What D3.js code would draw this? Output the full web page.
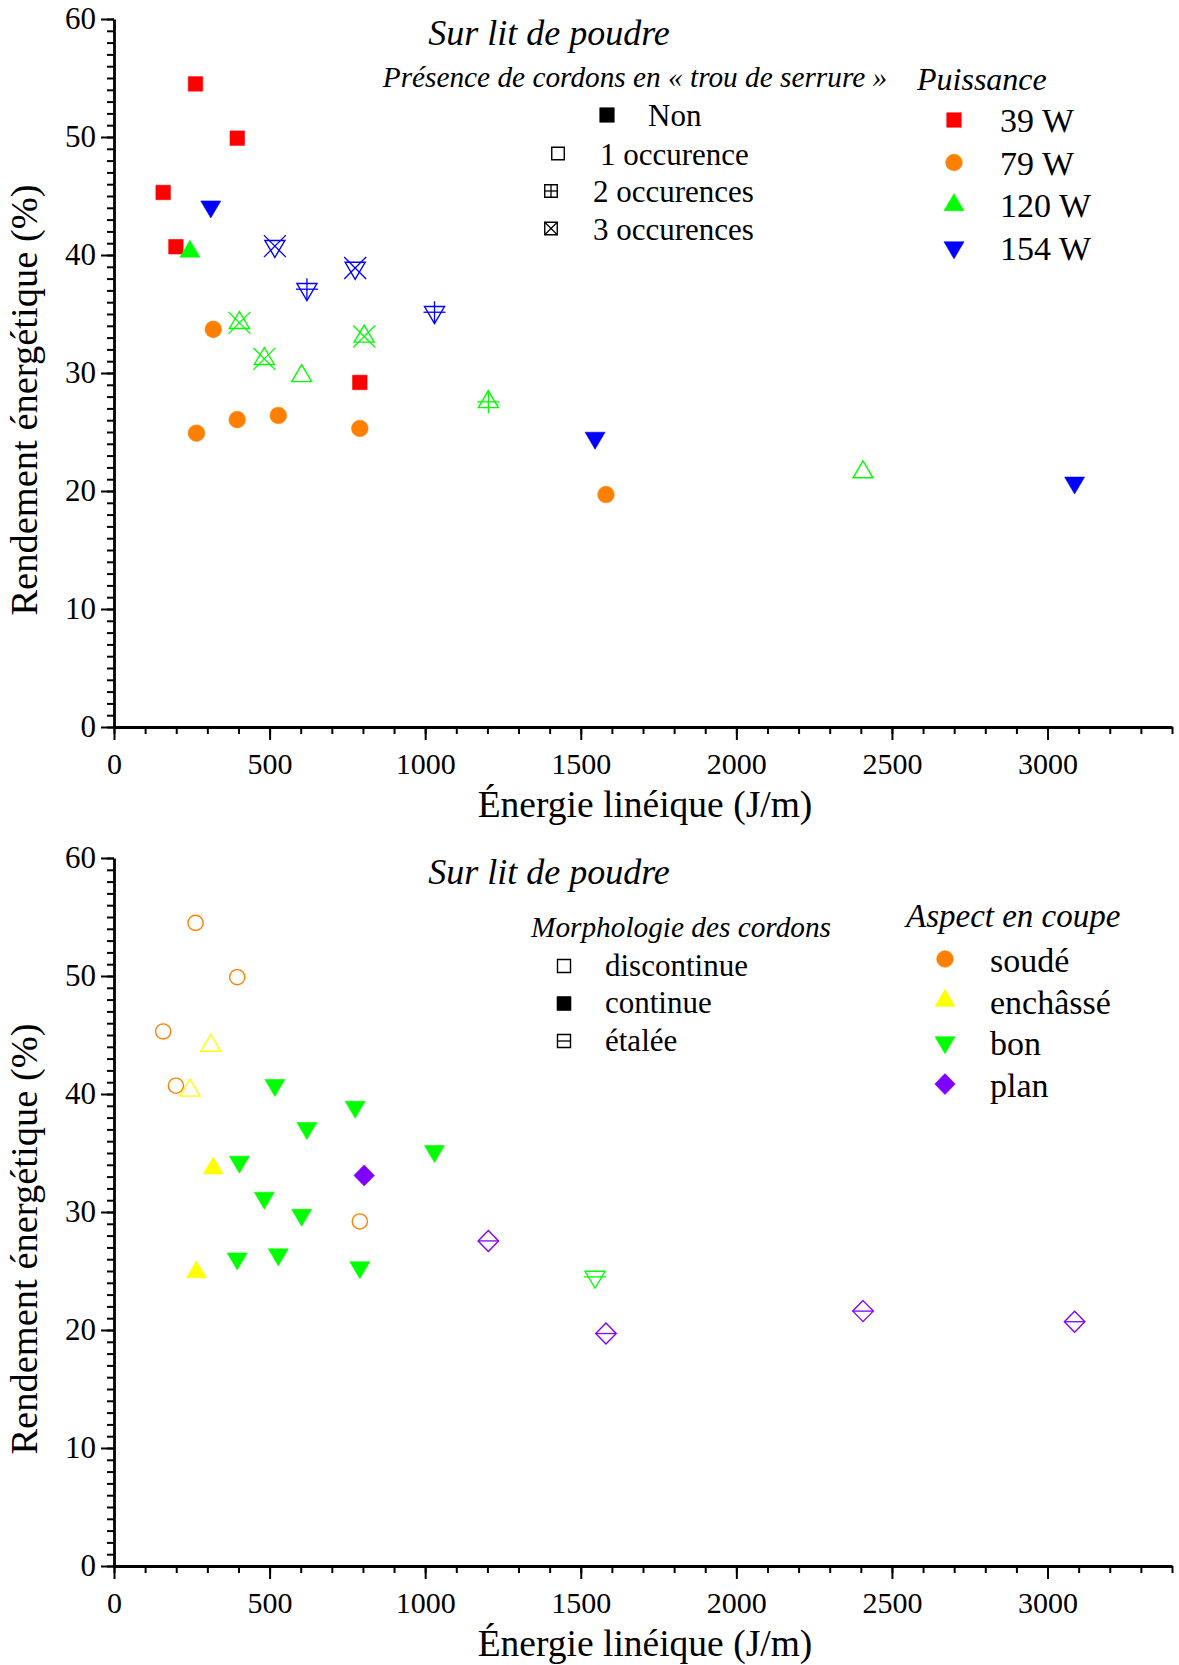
<!DOCTYPE html>
<html><head><meta charset="utf-8">
<script src="https://cdn.jsdelivr.net/npm/d3@7"></script>
<style>
body{margin:0;background:#fff}
svg{display:block}
text{font-family:"Liberation Serif","DejaVu Serif",serif;fill:#000}
</style>
</head><body>
<svg id="chart" width="1179" height="1665"></svg>
<script>
// ---------- data ----------
const energie   = [262, 396, 158, 199, 790, 319, 265, 396, 528, 790, 1581, 244, 403, 483, 603, 804, 1203, 2407, 311, 517, 620, 775, 1030, 1546, 3087];
const rendement = [54.5, 49.9, 45.3, 40.7, 29.2, 33.7, 24.9, 26.05, 26.4, 25.3, 19.7, 40.3, 34.25, 31.2, 29.75, 33.1, 27.55, 21.6, 44.1, 40.75, 37.1, 38.9, 35.15, 24.5, 20.7];
const puissance = [39, 39, 39, 39, 39, 79, 79, 79, 79, 79, 79, 120, 120, 120, 120, 120, 120, 120, 154, 154, 154, 154, 154, 154, 154];
const serrure   = ["Non","Non","Non","Non","Non","Non","Non","Non","Non","Non","Non","Non","3","3","1","3","2","1","Non","3","2","3","2","Non","Non"];
const morphologie = ["discontinue","discontinue","discontinue","discontinue","discontinue",
  "continue","continue","continue","continue","continue","étalée",
  "discontinue","continue","continue","continue","continue","étalée","étalée",
  "discontinue","continue","continue","continue","continue","étalée","étalée"];
const aspect = ["soudé","soudé","soudé","soudé","soudé",
  "enchâssé","enchâssé","bon","bon","bon","plan",
  "enchâssé","bon","bon","bon","plan","plan","plan",
  "enchâssé","bon","bon","bon","bon","bon","plan"];

const puissanceLevels = [39, 79, 120, 154];
const puissanceLabels = ["39 W", "79 W", "120 W", "154 W"];
const serrureLevels = ["Non", "1", "2", "3"];
const serrureLabels = ["Non", "1 occurence", "2 occurences", "3 occurences"];
const morphLevels = ["discontinue", "continue", "étalée"];
const morphLabels = ["discontinue", "continue", "étalée"];
const aspectLevels = ["soudé", "enchâssé", "bon", "plan"];
const aspectLabels = ["soudé", "enchâssé", "bon", "plan"];

const xMajorTicks = [0, 500, 1000, 1500, 2000, 2500, 3000];
const yMajorTicks = [0, 10, 20, 30, 40, 50, 60];

const titleText = "Sur lit de poudre";
const xTitle = "Énergie linéique (J/m)";
const yTitle = "Rendement énergétique (%)";

// ---------- styles ----------
const puissanceStyle = {39:{shape:"square",color:"#FF0000"},79:{shape:"circle",color:"#FF8000"},
  120:{shape:"up",color:"#00FF00"},154:{shape:"down",color:"#0000FF"}};
const serrureStyle = {"Non":{fill:true,inner:null},"1":{fill:false,inner:null},
  "2":{fill:false,inner:"plus"},"3":{fill:false,inner:"cross"}};
const aspectStyle = {"soudé":{shape:"circle",color:"#FF8000"},"enchâssé":{shape:"up",color:"#FFFF00"},
  "bon":{shape:"down",color:"#00FF00"},"plan":{shape:"diamond",color:"#8000FF"}};
const morphStyle = {"discontinue":{fill:false,inner:null},"continue":{fill:true,inner:null},
  "étalée":{fill:false,inner:"hline"}};

const SIZES = {square:{w:14.5,h:14.5},circle:{w:16.6,h:16.6},up:{w:20,h:17},down:{w:20,h:17},diamond:{w:20.5,h:21}};

function shapePath(shape, cx, cy, w, h){
  if(shape==="square") return `M${cx-w/2},${cy-h/2}h${w}v${h}h${-w}Z`;
  if(shape==="up") return `M${cx},${cy-2*h/3}L${cx+w/2},${cy+h/3}L${cx-w/2},${cy+h/3}Z`;
  if(shape==="down") return `M${cx-w/2},${cy-h/3}L${cx+w/2},${cy-h/3}L${cx},${cy+2*h/3}Z`;
  if(shape==="diamond") return `M${cx},${cy-h/2}L${cx+w/2},${cy}L${cx},${cy+h/2}L${cx-w/2},${cy}Z`;
  return "";
}

function marker(g, shape, cx, cy, color, fill, inner, sz, ext){
  const {w,h} = sz || SIZES[shape];
  let el;
  if(shape==="circle"){
    el = g.append("circle").attr("cx",cx).attr("cy",cy).attr("r",fill? w/2 : w/2-0.7);
  } else {
    el = g.append("path").attr("d", shapePath(shape,cx,cy,w,h));
  }
  el.attr("fill", fill? color : "none").attr("stroke", color).attr("stroke-width", fill? 0.6 : 1.4);
  const e = ext || (shape==="square" ? w/2 : (shape==="diamond" ? w/2 : 11));
  const lw = 1.3;
  if(inner==="plus"){
    g.append("line").attr("x1",cx-e).attr("x2",cx+e).attr("y1",cy).attr("y2",cy).attr("stroke",color).attr("stroke-width",lw);
    g.append("line").attr("x1",cx).attr("x2",cx).attr("y1",cy-e).attr("y2",cy+e).attr("stroke",color).attr("stroke-width",lw);
  } else if(inner==="cross"){
    g.append("line").attr("x1",cx-e).attr("x2",cx+e).attr("y1",cy-e).attr("y2",cy+e).attr("stroke",color).attr("stroke-width",lw);
    g.append("line").attr("x1",cx-e).attr("x2",cx+e).attr("y1",cy+e).attr("y2",cy-e).attr("stroke",color).attr("stroke-width",lw);
  } else if(inner==="hline"){
    g.append("line").attr("x1",cx-e).attr("x2",cx+e).attr("y1",cy).attr("y2",cy).attr("stroke",color).attr("stroke-width",lw);
  }
}

const svg = d3.select("#chart");
const x = d3.scaleLinear().domain([0, 3400]).range([114, 1172]);
const y = d3.scaleLinear().domain([0, 60]).range([727, 19]);

function drawAxes(g){
  g.append("g").attr("transform",`translate(0,${y(0)})`)
    .call(d3.axisBottom(x).tickValues(d3.range(0,3401,100)).tickSize(7).tickSizeOuter(0).tickFormat(""))
    .call(s=>s.select(".domain").remove());
  g.append("g").attr("transform",`translate(${x(0)},0)`)
    .call(d3.axisLeft(y).tickValues(d3.range(0,61,1)).tickSize(7).tickSizeOuter(0).tickFormat(""))
    .call(s=>s.select(".domain").remove());
  const xa = g.append("g").attr("transform",`translate(0,${y(0)})`)
    .call(d3.axisBottom(x).tickValues(xMajorTicks).tickSize(13).tickSizeOuter(0).tickFormat(d3.format("d")));
  xa.selectAll("text").attr("y",47).attr("dy",0).style("font-size","30px");
  const ya = g.append("g").attr("transform",`translate(${x(0)},0)`)
    .call(d3.axisLeft(y).tickValues(yMajorTicks).tickSize(13).tickSizeOuter(0).tickPadding(5).tickFormat(d3.format("d")));
  ya.selectAll("text").attr("dy","0.32em").style("font-size","31px");
  g.selectAll(".tick line").attr("stroke","#000").attr("stroke-width",2);
  g.selectAll(".domain").attr("stroke","#000").attr("stroke-width",2.8);
  g.selectAll(".tick text").attr("fill","#000").style("font-family",'"Liberation Serif",serif');
  g.append("text").attr("x",645).attr("y",817).attr("text-anchor","middle")
    .style("font-size","37.5px").text(xTitle);
  g.append("text").attr("transform","translate(37,400) rotate(-90)").attr("text-anchor","middle")
    .style("font-size","38.5px").text(yTitle);
  g.append("text").attr("x",549).attr("y",45).attr("text-anchor","middle")
    .style("font-size","36px").style("font-style","italic").text(titleText);
}

// ---------- top panel ----------
const topG = svg.append("g");
drawAxes(topG);
const topPts = topG.append("g");
energie.forEach((e,i)=>{
  const ps = puissanceStyle[puissance[i]], ss = serrureStyle[serrure[i]];
  marker(topPts, ps.shape, x(e), y(rendement[i]), ps.color, ss.fill, ss.inner);
});
topG.append("text").attr("x",635).attr("y",87).attr("text-anchor","middle")
  .style("font-size","29.3px").style("font-style","italic").text("Présence de cordons en « trou de serrure »");
const serSymX = [607, 558, 551, 551], serTxtX = [648, 600, 593, 593], serY = [115, 153.5, 191, 228.5];
serrureLevels.forEach((k,i)=>{
  const st = serrureStyle[k];
  const s = st.fill ? 14.5 : 12.5;
  marker(topG, "square", serSymX[i], serY[i], "#000", st.fill, st.inner, {w:s,h:s}, s/2);
  topG.append("text").attr("x",serTxtX[i]).attr("y",serY[i]+11).style("font-size","31px").text(serrureLabels[i]);
});
topG.append("text").attr("x",917).attr("y",90).style("font-size","32px").style("font-style","italic").text("Puissance");
puissanceLevels.forEach((p,i)=>{
  const ps = puissanceStyle[p];
  const cy = 120 + i*42.5;
  marker(topG, ps.shape, 954, cy, ps.color, true, null);
  topG.append("text").attr("x",1000).attr("y",cy+12).style("font-size","34px").text(puissanceLabels[i]);
});

// ---------- bottom panel ----------
const botG = svg.append("g").attr("transform","translate(0,839)");
drawAxes(botG);
const botPts = botG.append("g");
energie.forEach((e,i)=>{
  const as = aspectStyle[aspect[i]], ms = morphStyle[morphologie[i]];
  marker(botPts, as.shape, x(e), y(rendement[i]), as.color, ms.fill, ms.inner);
});
botG.append("text").attr("x",681).attr("y",98).attr("text-anchor","middle")
  .style("font-size","29.3px").style("font-style","italic").text("Morphologie des cordons");
const morY = [127, 164.5, 202];
morphLevels.forEach((k,i)=>{
  const st = morphStyle[k];
  const s = st.fill ? 14 : 13;
  marker(botG, "square", 564, morY[i], "#000", st.fill, st.inner, {w:s,h:s}, s/2);
  botG.append("text").attr("x",605).attr("y",morY[i]+9.5).style("font-size","31px").text(morphLabels[i]);
});
botG.append("text").attr("x",906).attr("y",88).style("font-size","33px").style("font-style","italic").text("Aspect en coupe");
aspectLevels.forEach((k,i)=>{
  const as = aspectStyle[k];
  const cy = 120 + i*41.7;
  marker(botG, as.shape, 945, cy, as.color, true, null);
  botG.append("text").attr("x",990).attr("y",cy+13).style("font-size","34px").text(aspectLabels[i]);
});
</script>
</body></html>
